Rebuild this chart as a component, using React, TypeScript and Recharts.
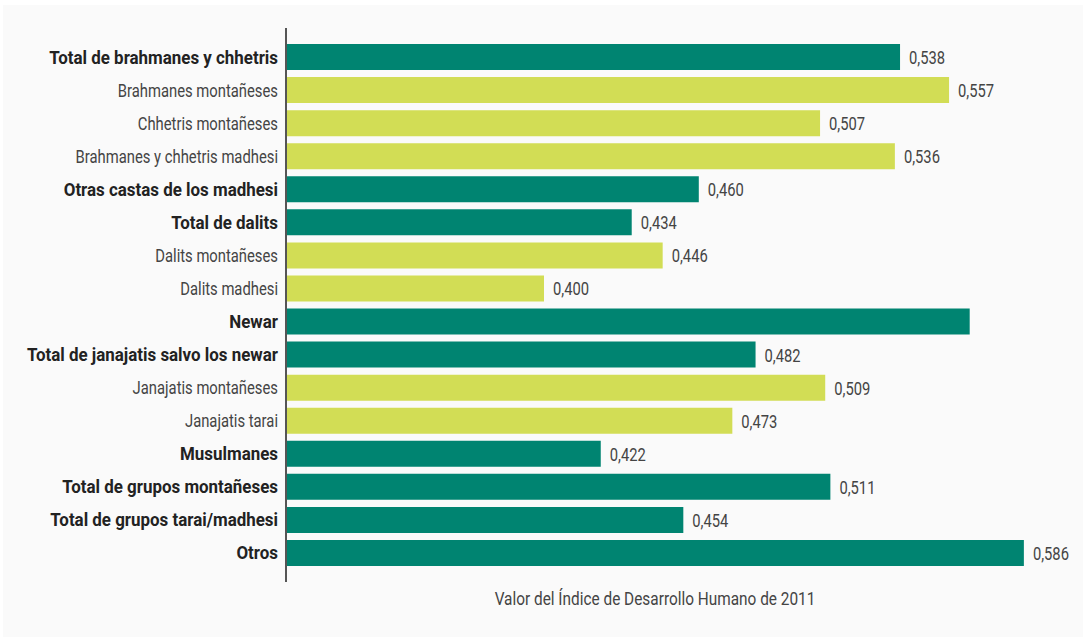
import React from "react";
import { BarChart, Bar, XAxis, YAxis, Cell, LabelList } from "recharts";

const categories = [
  "Total de brahmanes y chhetris",
  "Brahmanes montañeses",
  "Chhetris montañeses",
  "Brahmanes y chhetris madhesi",
  "Otras castas de los madhesi",
  "Total de dalits",
  "Dalits montañeses",
  "Dalits madhesi",
  "Newar",
  "Total de janajatis salvo los newar",
  "Janajatis montañeses",
  "Janajatis tarai",
  "Musulmanes",
  "Total de grupos montañeses",
  "Total de grupos tarai/madhesi",
  "Otros",
];
const values = [0.538, 0.557, 0.507, 0.536, 0.46, 0.434, 0.446, 0.4, 0.565, 0.482, 0.509, 0.473, 0.422, 0.511, 0.454, 0.586];
const isTotal = [true, false, false, false, true, true, false, false, true, true, false, false, true, true, true, true];
const valueLabels = ["0,538", "0,557", "0,507", "0,536", "0,460", "0,434", "0,446", "0,400", "", "0,482", "0,509", "0,473", "0,422", "0,511", "0,454", "0,586"];
const axisTitle = "Valor del Índice de Desarrollo Humano de 2011";

const TEAL = "#008471";
const LIME = "#d2dd55";
const FONT = "Roboto, 'Liberation Sans', sans-serif";

const data = categories.map((name, i) => ({
  name,
  value: values[i],
  label: valueLabels[i],
  total: isTotal[i],
}));

const CategoryTick = (props: any) => {
  const { x, y, payload } = props;
  const bold = isTotal[payload.index];
  return (
    <text
      transform={`translate(${x},${y + 7}) scale(${bold ? 0.915 : 0.8},1)`}
      x={0}
      y={0}
      textAnchor="end"
      fontFamily={FONT}
      fontSize={18.5}
      fontWeight={bold ? 700 : 400}
      fill={bold ? "#222" : "#444"}
    >
      {payload.value}
    </text>
  );
};

const ValueLabel = (props: any) => {
  const { x, y, width, height, value } = props;
  if (!value) return null;
  return (
    <text
      transform={`translate(${x + width + 9},${y + height / 2 + 7}) scale(0.82,1)`}
      x={0}
      y={0}
      fontFamily={FONT}
      fontSize={18}
      fill="#444"
    >
      {value}
    </text>
  );
};

const AxisTitle = (props: any) => {
  const { viewBox } = props;
  const cx = viewBox.x + viewBox.width / 2 - 18;
  return (
    <text
      transform={`translate(${cx},${viewBox.y + 23}) scale(0.855,1)`}
      x={0}
      y={0}
      textAnchor="middle"
      fontFamily={FONT}
      fontSize={18}
      fill="#444"
    >
      {axisTitle}
    </text>
  );
};

export default function App() {
  return (
    <div style={{ position: "absolute", left: 0, top: 0, width: 1086, height: 637, background: "#fff" }}>
      <div style={{ position: "absolute", left: 3, top: 5, width: 1080, height: 632, background: "#fafafa" }} />
      <div style={{ position: "absolute", left: 0, top: 0 }}>
        <BarChart
          width={1086}
          height={637}
          data={data}
          layout="vertical"
          margin={{ top: 28, right: 26, bottom: 15, left: 0 }}
        >
          <XAxis
            type="number"
            domain={[0.3, 0.6]}
            allowDataOverflow
            axisLine={false}
            tickLine={false}
            tick={false}
            height={40}
            label={<AxisTitle />}
          />
          <YAxis
            type="category"
            dataKey="name"
            width={286}
            interval={0}
            axisLine={{ stroke: "#555", strokeWidth: 2 }}
            tickLine={false}
            tickSize={0}
            tickMargin={8}
            tick={<CategoryTick />}
            padding={{ top: 12, bottom: 13 }}
          />
          <Bar dataKey="value" barSize={26} isAnimationActive={false}>
            {data.map((d, i) => (
              <Cell key={i} fill={d.total ? TEAL : LIME} />
            ))}
            <LabelList dataKey="label" content={<ValueLabel />} />
          </Bar>
        </BarChart>
      </div>
    </div>
  );
}
